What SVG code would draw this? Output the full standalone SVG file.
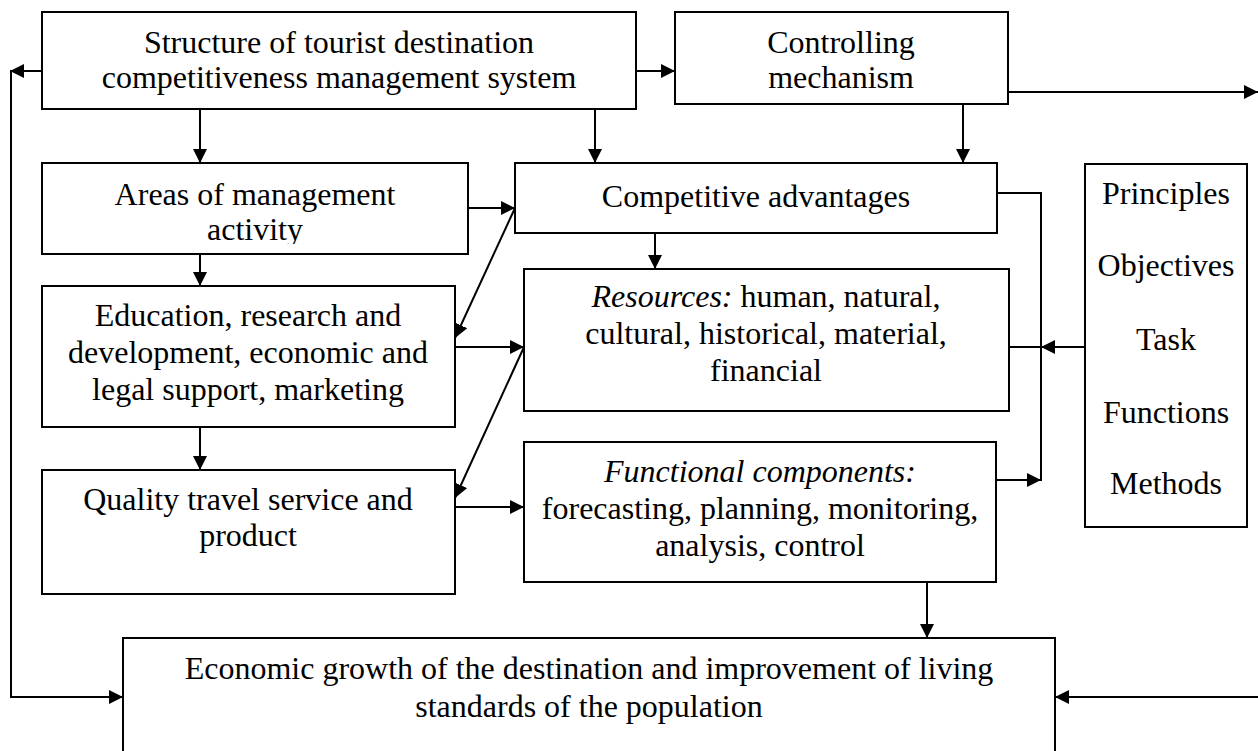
<svg xmlns="http://www.w3.org/2000/svg" width="1258" height="751" viewBox="0 0 1258 751">
<style>
  .box { fill: #fff; stroke: #000; stroke-width: 2; }
  .t { font-family: "Liberation Serif", "Times New Roman", serif; font-size: 32px; fill: #000; text-anchor: middle; }
  .i { font-style: italic; }
  .c { fill: none; stroke: #000; stroke-width: 2; }
</style>
<defs>
  <marker id="ah" markerUnits="userSpaceOnUse" markerWidth="14" markerHeight="14" viewBox="0 0 14 14" refX="14" refY="7" orient="auto">
    <path d="M0,0 L14,7 L0,14 Z" fill="#000"/>
  </marker>
  <clipPath id="clipAreas"><rect x="42" y="163" width="426" height="81"/></clipPath>
</defs>
<rect width="1258" height="751" fill="#fff"/>

<g id="connectors">
  <line class="c" x1="636" y1="71" x2="675" y2="71" marker-end="url(#ah)"/>
  <line class="c" x1="42" y1="71" x2="10" y2="71" marker-end="url(#ah)"/>
  <polyline class="c" points="11,71 11,697 123,697" marker-end="url(#ah)"/>
  <line class="c" x1="200" y1="109" x2="200" y2="163" marker-end="url(#ah)"/>
  <line class="c" x1="595" y1="109" x2="595" y2="163" marker-end="url(#ah)"/>
  <line class="c" x1="963" y1="104" x2="963" y2="163" marker-end="url(#ah)"/>
  <line class="c" x1="1008" y1="92" x2="1258" y2="92" marker-end="url(#ah)"/>
  <line class="c" x1="468" y1="208" x2="515" y2="208" marker-end="url(#ah)"/>
  <line class="c" x1="515" y1="208" x2="455" y2="338" marker-end="url(#ah)"/>
  <line class="c" x1="200" y1="254" x2="200" y2="286" marker-end="url(#ah)"/>
  <line class="c" x1="655" y1="233" x2="655" y2="269" marker-end="url(#ah)"/>
  <line class="c" x1="455" y1="347" x2="524" y2="347" marker-end="url(#ah)"/>
  <line class="c" x1="524" y1="347" x2="455" y2="498" marker-end="url(#ah)"/>
  <line class="c" x1="200" y1="427" x2="200" y2="470" marker-end="url(#ah)"/>
  <line class="c" x1="455" y1="507" x2="524" y2="507" marker-end="url(#ah)"/>
  <polyline class="c" points="997,193 1041,193 1041,481"/>
  <line class="c" x1="996" y1="480" x2="1041" y2="480" marker-end="url(#ah)"/>
  <line class="c" x1="1009" y1="347" x2="1041" y2="347"/>
  <line class="c" x1="1085" y1="347" x2="1041" y2="347" marker-end="url(#ah)"/>
  <line class="c" x1="927" y1="582" x2="927" y2="638" marker-end="url(#ah)"/>
  <line class="c" x1="1258" y1="697" x2="1055" y2="697" marker-end="url(#ah)"/>
</g>

<g id="structure">
  <rect class="box" x="42" y="12" width="594" height="97"/>
  <text class="t" x="339" y="53">Structure of tourist destination</text>
  <text class="t" x="339" y="88">competitiveness management system</text>
</g>
<g id="controlling">
  <rect class="box" x="675" y="12" width="333" height="92"/>
  <text class="t" x="841" y="53">Controlling</text>
  <text class="t" x="841" y="88">mechanism</text>
</g>
<g id="areas">
  <rect class="box" x="42" y="163" width="426" height="91"/>
  <g clip-path="url(#clipAreas)">
    <text class="t" x="255" y="205">Areas of management</text>
    <text class="t" x="255" y="240">activity</text>
  </g>
</g>
<g id="competitive">
  <rect class="box" x="515" y="163" width="482" height="70"/>
  <text class="t" x="756" y="207">Competitive advantages</text>
</g>
<g id="education">
  <rect class="box" x="42" y="286" width="413" height="141"/>
  <text class="t" x="248" y="326">Education, research and</text>
  <text class="t" x="248" y="363">development, economic and</text>
  <text class="t" x="248" y="400">legal support, marketing</text>
</g>
<g id="resources">
  <rect class="box" x="524" y="269" width="485" height="142"/>
  <text class="t" x="766" y="307"><tspan class="i">Resources:</tspan> human, natural,</text>
  <text class="t" x="766" y="344">cultural, historical, material,</text>
  <text class="t" x="766" y="381">financial</text>
</g>
<g id="quality">
  <rect class="box" x="42" y="470" width="413" height="124"/>
  <text class="t" x="248" y="510">Quality travel service and</text>
  <text class="t" x="248" y="546">product</text>
</g>
<g id="functional">
  <rect class="box" x="524" y="442" width="472" height="140"/>
  <text class="t i" x="760" y="482">Functional components:</text>
  <text class="t" x="760" y="519">forecasting, planning, monitoring,</text>
  <text class="t" x="760" y="556">analysis, control</text>
</g>
<g id="principles">
  <rect class="box" x="1085" y="164" width="162" height="363"/>
  <text class="t" x="1166" y="204">Principles</text>
  <text class="t" x="1166" y="276">Objectives</text>
  <text class="t" x="1166" y="350">Task</text>
  <text class="t" x="1166" y="423">Functions</text>
  <text class="t" x="1166" y="494">Methods</text>
</g>
<g id="economic">
  <rect class="box" x="123" y="638" width="932" height="130"/>
  <text class="t" x="589" y="679">Economic growth of the destination and improvement of living</text>
  <text class="t" x="589" y="717">standards of the population</text>
</g>
</svg>
